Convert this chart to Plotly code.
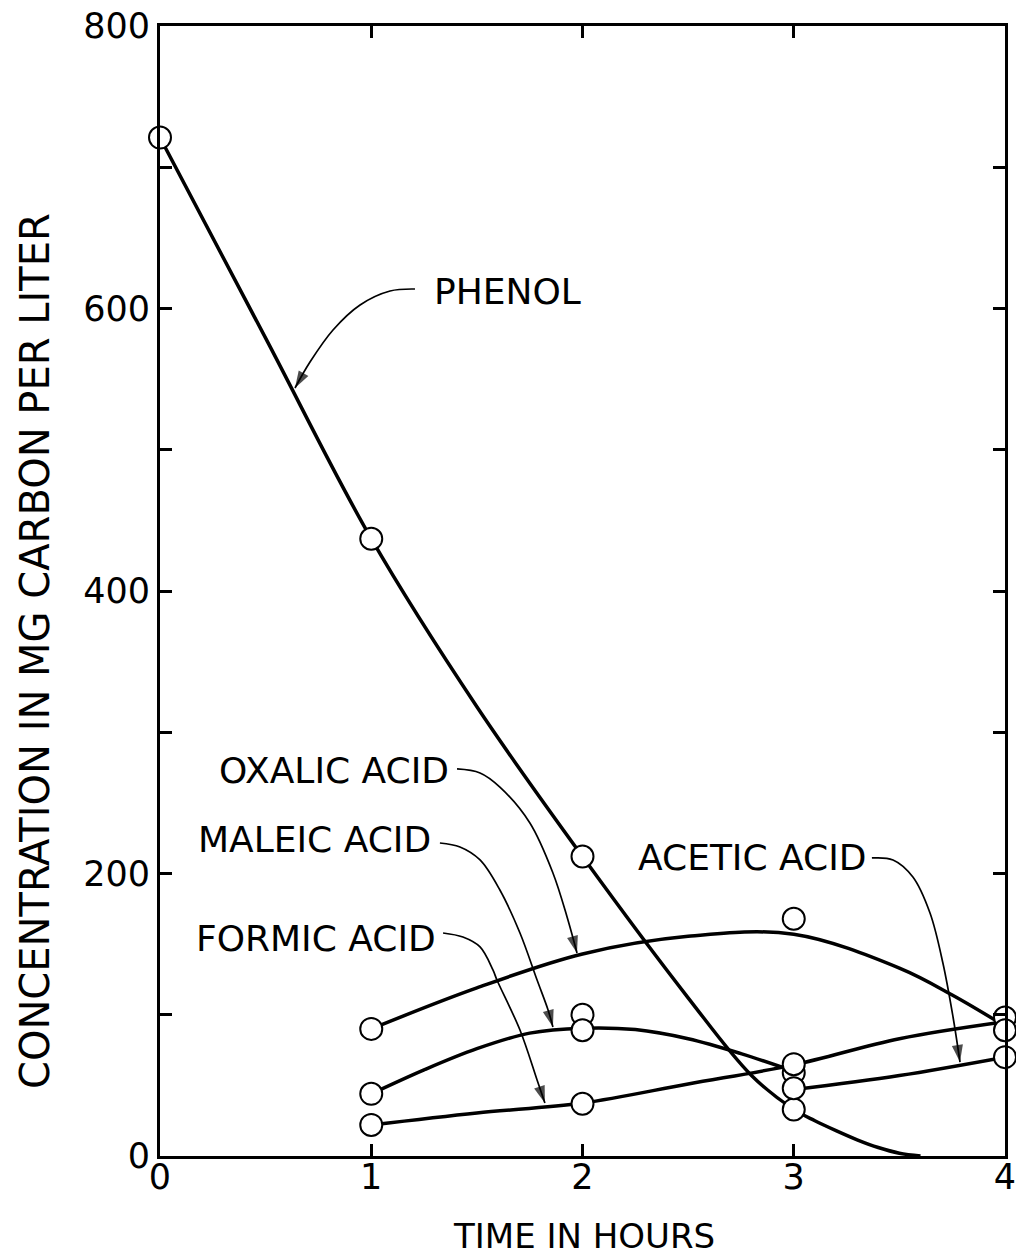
import plotly.graph_objects as go

# ---------------- data ----------------
# measured points (open circles)
phenol_t = [0, 1, 2, 3]
phenol_c = [721, 437, 212, 33]
oxalic_t = [1, 3, 4]
oxalic_c = [90, 168, 98]
maleic_t = [1, 2, 2, 3]
maleic_c = [44, 100, 89, 59]
formic_t = [1, 2, 3, 4]
formic_c = [22, 37, 65, 89]
acetic_t = [3, 4]
acetic_c = [48, 70]

# hand-drawn fitted curves
phenol_curve_t = [0, 0.5, 1, 1.5, 2, 2.5, 2.8, 3.0, 3.1, 3.2, 3.3, 3.4, 3.5, 3.6]
phenol_curve_c = [721, 579, 437, 318, 212, 112, 57, 33, 25, 18, 11.5, 6, 2, 0]
oxalic_curve_t = [1, 1.5, 2, 2.5, 3, 3.5, 3.75, 4.0]
oxalic_curve_c = [90, 119, 143, 155.5, 157, 133, 114, 92]
maleic_curve_t = [1, 1.25, 1.5, 1.75, 2.0, 2.25, 2.5, 2.75, 3.0]
maleic_curve_c = [44, 61, 76, 87, 90.5, 89.5, 83, 72.5, 60]
formic_curve_t = [1, 1.5, 2.0, 2.5, 3.0, 3.5, 4.0]
formic_curve_c = [22, 30.5, 37.5, 51, 64.5, 83, 95]
acetic_curve_t = [3.0, 3.5, 4.0]
acetic_curve_c = [47, 57, 70]

# label leaders (curved arrows), in data units
phenol_lead_t = [1.207, 1.089, 0.947, 0.819, 0.710, 0.639]
phenol_lead_c = [613.8, 612.4, 602.5, 584.8, 562.1, 543.7]
oxalic_lead_t = [1.406, 1.515, 1.609, 1.751, 1.860, 1.927, 1.974]
oxalic_lead_c = [274.0, 271.2, 261.2, 235.8, 200.4, 169.2, 143.7]
maleic_lead_t = [1.325, 1.420, 1.515, 1.609, 1.704, 1.785, 1.837, 1.860]
maleic_lead_c = [221.6, 218.8, 209.6, 188.3, 157.9, 124.6, 103.4, 91.3]
formic_lead_t = [1.340, 1.434, 1.515, 1.576, 1.595, 1.704, 1.785, 1.822]
formic_lead_c = [157.9, 155.0, 148.0, 131.7, 124.6, 89.2, 53.8, 37.5]
acetic_lead_t = [3.370, 3.470, 3.564, 3.645, 3.706, 3.754, 3.787]
acetic_lead_c = [211.0, 209.6, 197.5, 172.0, 136.6, 98.4, 66.5]

x_ticks = [0, 1, 2, 3, 4]
y_ticks = [0, 100, 200, 300, 400, 500, 600, 700, 800]
y_ticktext = ["0", "", "200", "", "400", "", "600", "", "800"]

FONT = "DejaVu Sans, Verdana, sans-serif"

fig = go.Figure()

# curves
for t, c in [(phenol_curve_t, phenol_curve_c), (oxalic_curve_t, oxalic_curve_c),
             (maleic_curve_t, maleic_curve_c), (formic_curve_t, formic_curve_c),
             (acetic_curve_t, acetic_curve_c)]:
    fig.add_trace(go.Scatter(x=t, y=c, mode="lines",
                             line=dict(color="black", width=3.5, shape="spline", smoothing=1),
                             hoverinfo="skip", showlegend=False))

# leaders with arrowheads
for t, c in [(phenol_lead_t, phenol_lead_c), (oxalic_lead_t, oxalic_lead_c),
             (maleic_lead_t, maleic_lead_c), (formic_lead_t, formic_lead_c),
             (acetic_lead_t, acetic_lead_c)]:
    n = len(t)
    fig.add_trace(go.Scatter(x=t, y=c, mode="lines+markers",
                             line=dict(color="black", width=1.7, shape="spline", smoothing=1),
                             marker=dict(symbol="arrow", size=[0] * (n - 1) + [18],
                                         angleref="previous", color="black",
                                         line=dict(width=0)),
                             hoverinfo="skip", showlegend=False, cliponaxis=False))

# measured points
for t, c in [(phenol_t, phenol_c), (oxalic_t, oxalic_c), (maleic_t, maleic_c),
             (formic_t, formic_c), (acetic_t, acetic_c)]:
    fig.add_trace(go.Scatter(x=t, y=c, mode="markers",
                             marker=dict(symbol="circle", size=22, color="white",
                                         line=dict(color="black", width=2)),
                             showlegend=False, cliponaxis=False))

labels = [
    ("PHENOL", 1.288, 612, "left"),
    ("OXALIC ACID", 1.378, 273, "right"),
    ("MALEIC ACID", 1.293, 224, "right"),
    ("FORMIC ACID", 1.316, 154, "right"),
    ("ACETIC ACID", 3.355, 211, "right"),
]
for txt, x, y, anc in labels:
    fig.add_annotation(x=x, y=y, text=txt, showarrow=False, xanchor=anc, yanchor="middle",
                       font=dict(family=FONT, size=36, color="black"))

fig.add_annotation(xref="paper", yref="paper", x=(584 - 160) / 845, y=(1156 - 1236) / 1130,
                   text="TIME IN HOURS", showarrow=False, xanchor="center", yanchor="middle",
                   font=dict(family=FONT, size=34, color="black"))
fig.add_annotation(xref="paper", yref="paper", x=(35 - 160) / 845, y=(1156 - 651) / 1130,
                   text="CONCENTRATION IN MG CARBON PER LITER", showarrow=False, textangle=-90,
                   xanchor="center", yanchor="middle",
                   font=dict(family=FONT, size=40, color="black"))

axis_common = dict(showline=True, linecolor="black", linewidth=3, mirror="ticks",
                   ticks="inside", ticklen=12, tickwidth=2.5, tickcolor="black",
                   showgrid=False, zeroline=False, automargin=False,
                   ticklabeloverflow="allow",
                   tickfont=dict(family=FONT, size=35, color="black"))

fig.update_layout(
    width=1016, height=1255,
    margin=dict(l=160, r=11, t=26, b=99),
    plot_bgcolor="white", paper_bgcolor="white",
    xaxis=dict(range=[0, 4], tickvals=x_ticks, ticklabelstandoff=-12, **axis_common),
    yaxis=dict(range=[0, 800], tickvals=y_ticks, ticktext=y_ticktext,
               ticklabelstandoff=0, **axis_common),
    showlegend=False,
)

fig.write_html("out.html")
